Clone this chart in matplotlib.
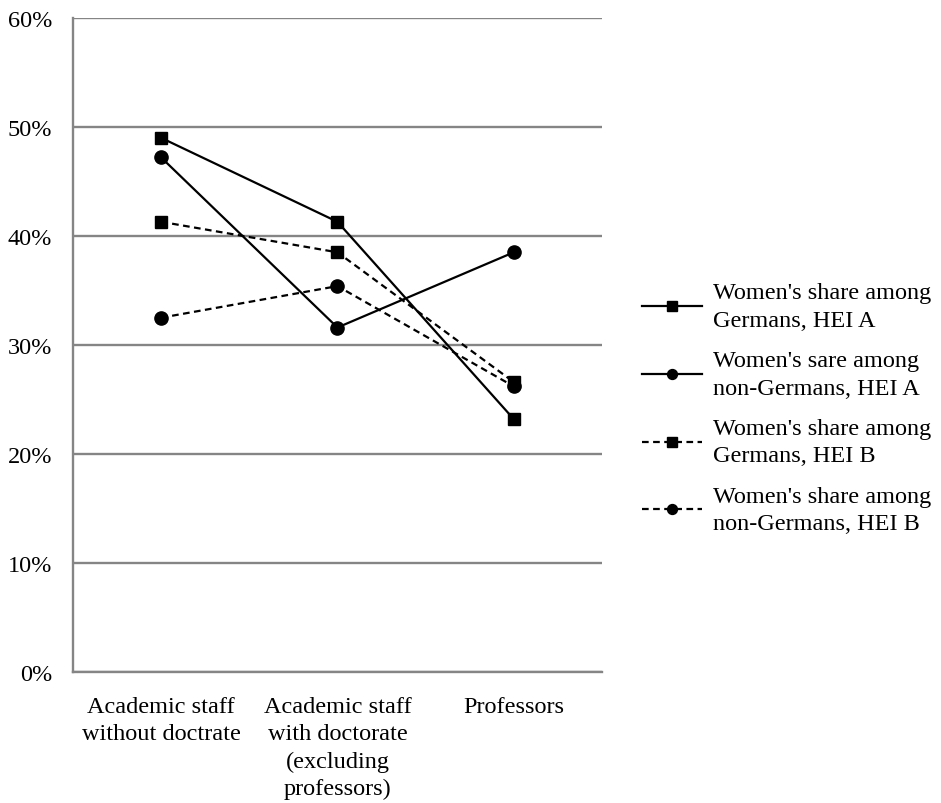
import matplotlib.pyplot as plt

plt.rcParams['font.family'] = ['Liberation Serif', 'DejaVu Serif']

categories = ['Academic staff\nwithout doctrate',
              'Academic staff\nwith doctorate\n(excluding\nprofessors)',
              'Professors']

germans_a = [49.0, 41.3, 23.2]
non_germans_a = [47.2, 31.6, 38.5]
germans_b = [41.3, 38.5, 26.6]
non_germans_b = [32.5, 35.4, 26.2]

labels = ["Women's share among\nGermans, HEI A",
          "Women's sare among\nnon-Germans, HEI A",
          "Women's share among\nGermans, HEI B",
          "Women's share among\nnon-Germans, HEI B"]

fig = plt.figure(figsize=(9.41, 8.04), dpi=100)
ax = fig.add_axes([0.0776, 0.163, 0.562, 0.8134])

x = range(len(categories))
ax.plot(x, germans_a, '-', marker='s', color='black', lw=1.6, ms=9, label=labels[0])
ax.plot(x, non_germans_a, '-', marker='o', color='black', lw=1.6, ms=9.5, label=labels[1])
ax.plot(x, germans_b, '--', marker='s', color='black', lw=1.6, ms=9, dashes=(3, 2), label=labels[2])
ax.plot(x, non_germans_b, '--', marker='o', color='black', lw=1.6, ms=9.5, dashes=(3, 2), label=labels[3])

ax.set_xlim(-0.5, 2.5)
ax.set_ylim(0, 60)
ax.set_yticks(range(0, 61, 10))
ax.set_yticklabels([f'{v}%' for v in range(0, 61, 10)])
ax.set_xticks(list(x))
ax.set_xticklabels(categories, linespacing=1.4)
ax.yaxis.grid(True, color='#858585', lw=1.7)
ax.set_axisbelow(True)
for s in ['top', 'right']:
    ax.spines[s].set_visible(False)
for s in ['left', 'bottom']:
    ax.spines[s].set_color('#858585')
    ax.spines[s].set_linewidth(1.7)
ax.tick_params(axis='both', length=0, labelsize=17.5)
ax.tick_params(axis='y', pad=15)
ax.tick_params(axis='x', pad=17)

leg = fig.legend(loc='center left', bbox_to_anchor=(0.682, 0.491), frameon=False,
                 fontsize=17.5, handlelength=2.47, handletextpad=0.45, markerscale=0.75,
                 labelspacing=0.8, borderpad=0, borderaxespad=0)
for t in leg.get_texts():
    t.set_linespacing(1.4)

fig.savefig('out.png', dpi=100)
